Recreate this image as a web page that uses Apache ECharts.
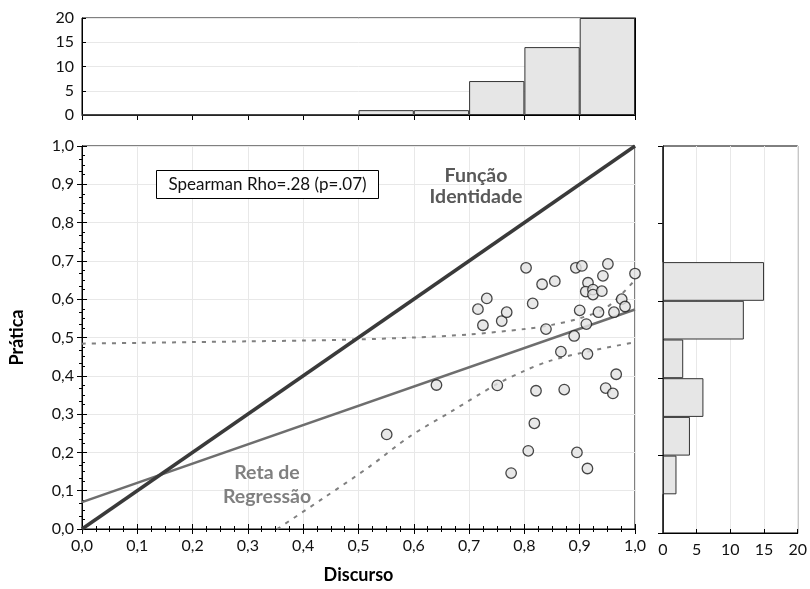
<!DOCTYPE html>
<html>
<head>
<meta charset="utf-8">
<script src="https://cdn.jsdelivr.net/npm/echarts@6/dist/echarts.min.js"></script>
<style>
html,body{margin:0;padding:0;background:#fff;}
#chart{width:810px;height:589px;}
</style>
</head>
<body>
<div id="chart"></div>
<script>
// ---- data ----
var discurso = [0.551,0.641,0.716,0.732,0.725,0.759,0.768,0.751,0.776,0.803,0.815,0.832,0.855,0.839,0.821,0.818,0.807,0.866,0.872,0.890,0.893,0.904,0.951,0.915,0.911,0.924,0.924,0.942,0.940,1.000,0.900,0.912,0.934,0.962,0.976,0.982,0.914,0.966,0.947,0.960,0.895,0.914];
var pratica  = [0.247,0.376,0.574,0.602,0.532,0.543,0.566,0.375,0.146,0.682,0.589,0.639,0.647,0.522,0.361,0.276,0.204,0.463,0.364,0.504,0.682,0.687,0.692,0.643,0.620,0.625,0.612,0.661,0.621,0.667,0.571,0.535,0.566,0.566,0.600,0.581,0.457,0.404,0.368,0.354,0.200,0.158];

var binLabels = ['0,0-0,1','0,1-0,2','0,2-0,3','0,3-0,4','0,4-0,5','0,5-0,6','0,6-0,7','0,7-0,8','0,8-0,9','0,9-1,0'];
var discursoCounts = [0,0,0,0,0,1,1,7,14,20];
var praticaCounts  = [0,2,4,6,3,12,15,0,0,0];

var identityX = [0,1];
var identityY = [0,1];
var regressionX = [0,1];
var regressionY = [0.070,0.573];
var upperX = [0,0.1,0.2,0.3,0.4,0.5,0.6,0.7,0.8,0.85,0.9,0.95,1.0];
var upperY = [0.484,0.486,0.488,0.490,0.492,0.495,0.500,0.508,0.522,0.533,0.550,0.580,0.650];
var lowerX = [0.353,0.437,0.520,0.593,0.668,0.750,0.800,0.846,0.904,1.0];
var lowerY = [0.000,0.081,0.163,0.242,0.307,0.378,0.413,0.439,0.460,0.488];

var mainTicks = [0,0.1,0.2,0.3,0.4,0.5,0.6,0.7,0.8,0.9,1.0];
var countTicks = [0,5,10,15,20];

function zip(a,b){return a.map(function(v,i){return [v,b[i]];});}
function comma(v){return (Math.round(v*10)/10).toFixed(1).replace('.',',');}

var FONT = 'Lato';
var chart = echarts.init(document.getElementById('chart'));
var gridLine = {show:true, lineStyle:{color:'#e8e8e8', width:1}};
var blackLine = {show:true, lineStyle:{color:'#000', width:1}};

var option = {
  backgroundColor:'#fff',
  animation:false,
  textStyle:{fontFamily:FONT},
  grid:[
    {left:82, top:146, width:553, height:387, show:true, borderColor:'#000', borderWidth:1, backgroundColor:'transparent'},
    {left:82, top:18, width:553, height:97, show:true, borderColor:'#000', borderWidth:1, backgroundColor:'transparent'},
    {left:663, top:146, width:139, height:387, show:true, borderColor:'#000', borderWidth:1, backgroundColor:'transparent'}
  ],
  xAxis:[
    {gridIndex:0, type:'value', min:mainTicks[0], max:mainTicks[mainTicks.length-1], interval:0.1, position:'bottom',
     name:'Discurso', nameLocation:'middle', nameGap:37,
     nameTextStyle:{fontFamily:FONT, fontWeight:'bold', fontSize:18, color:'#000'},
     axisLine:blackLine, axisTick:{show:true, inside:true, length:5, lineStyle:{color:'#000'}},
     minorTick:{show:true, splitNumber:4, length:3, lineStyle:{color:'#000'}},
     axisLabel:{formatter:comma, fontFamily:FONT, fontSize:16, color:'#111', margin:9},
     splitLine:gridLine},
    {gridIndex:0, type:'value', min:0, max:1, interval:0.1, position:'top',
     axisLine:blackLine, axisTick:{show:true, inside:true, length:5, lineStyle:{color:'#000'}},
     minorTick:{show:true, splitNumber:4, length:3, lineStyle:{color:'#000'}},
     axisLabel:{show:false}, splitLine:{show:false}},
    {gridIndex:1, type:'category', data:binLabels, position:'top',
     axisLine:blackLine, axisTick:{show:true, inside:true, length:5, interval:0, lineStyle:{color:'#000'}},
     axisLabel:{show:false}, splitLine:{show:false}},
    {gridIndex:2, type:'value', min:countTicks[0], max:countTicks[countTicks.length-1], interval:5, position:'bottom',
     axisLine:blackLine, axisTick:{show:true, inside:true, length:4, lineStyle:{color:'#000'}},
     axisLabel:{fontFamily:FONT, fontSize:16, color:'#111', margin:9},
     splitLine:gridLine}
  ],
  yAxis:[
    {gridIndex:0, type:'value', min:mainTicks[0], max:mainTicks[mainTicks.length-1], interval:0.1, position:'left',
     name:'Prática', nameLocation:'middle', nameGap:56, nameRotate:90,
     nameTextStyle:{fontFamily:FONT, fontWeight:'bold', fontSize:18, color:'#000'},
     axisLine:blackLine, axisTick:{show:true, inside:true, length:5, lineStyle:{color:'#000'}},
     minorTick:{show:true, splitNumber:4, length:3, lineStyle:{color:'#000'}},
     axisLabel:{formatter:comma, fontFamily:FONT, fontSize:16, color:'#111', margin:8},
     splitLine:gridLine},
    {gridIndex:0, type:'value', min:0, max:1, interval:0.1, position:'right',
     axisLine:blackLine, axisTick:{show:true, inside:true, length:5, lineStyle:{color:'#000'}},
     minorTick:{show:true, splitNumber:3, length:3, lineStyle:{color:'#000'}},
     axisLabel:{show:false}, splitLine:{show:false}},
    {gridIndex:1, type:'value', min:countTicks[0], max:countTicks[countTicks.length-1], interval:5, position:'left',
     axisLine:blackLine, axisTick:{show:true, inside:true, length:4, lineStyle:{color:'#000'}},
     axisLabel:{fontFamily:FONT, fontSize:16, color:'#111', margin:8},
     splitLine:gridLine},
    {gridIndex:1, type:'value', min:0, max:20, interval:5, position:'right',
     axisLine:blackLine, axisTick:{show:true, inside:true, length:4, lineStyle:{color:'#000'}},
     axisLabel:{show:false}, splitLine:{show:false}},
    {gridIndex:2, type:'category', data:binLabels, position:'right',
     axisLine:blackLine, axisTick:{show:true, inside:true, length:5, interval:1, lineStyle:{color:'#000'}},
     axisLabel:{show:false}, splitLine:{show:false}}
  ],
  series:[
    {type:'line', xAxisIndex:0, yAxisIndex:0, data:zip(upperX,upperY), smooth:0.3, symbol:'none',
     lineStyle:{color:'#808080', width:2, type:[4,6]}, z:2},
    {type:'line', xAxisIndex:0, yAxisIndex:0, data:zip(lowerX,lowerY), smooth:0.3, symbol:'none',
     lineStyle:{color:'#808080', width:2, type:[4,6]}, z:2},
    {type:'line', xAxisIndex:0, yAxisIndex:0, data:zip(regressionX,regressionY), symbol:'none',
     lineStyle:{color:'#6e6e6e', width:2.5}, z:3},
    {type:'line', xAxisIndex:0, yAxisIndex:0, data:zip(identityX,identityY), symbol:'none',
     lineStyle:{color:'#3a3a3a', width:3.5}, z:3},
    {type:'scatter', xAxisIndex:0, yAxisIndex:0, data:zip(discurso,pratica), symbol:'circle', symbolSize:10.5,
     itemStyle:{color:'#e2e2e2', borderColor:'#1a1a1a', borderWidth:1.3}, z:5},
    {type:'bar', xAxisIndex:2, yAxisIndex:2, data:discursoCounts, barWidth:'100%', barGap:'0%',
     itemStyle:{color:'#e6e6e6', borderColor:'#333', borderWidth:1}},
    {type:'bar', xAxisIndex:3, yAxisIndex:4, data:praticaCounts, barWidth:'100%', barGap:'0%',
     itemStyle:{color:'#e6e6e6', borderColor:'#333', borderWidth:1}}
  ],
  graphic:[
    {type:'rect', shape:{x:156.5, y:170.5, width:222, height:28}, style:{fill:'#fff', stroke:'#000', lineWidth:1}, z:10},
    {type:'text', x:267.5, y:184.5, z:11, style:{text:'Spearman Rho=.28 (p=.07)', fontFamily:FONT, fontSize:17, fill:'#111', align:'center', verticalAlign:'middle'}},
    {type:'text', x:476, y:186, z:11, style:{text:'Função\nIdentidade', fontFamily:FONT, fontSize:19.5, fontWeight:'bold', fill:'#595959', align:'center', verticalAlign:'middle', lineHeight:21}},
    {type:'text', x:267, y:485, z:11, style:{text:'Reta de\nRegressão', fontFamily:FONT, fontSize:19.5, fontWeight:'bold', fill:'#808080', align:'center', verticalAlign:'middle', lineHeight:24}}
  ]
};
chart.setOption(option);
</script>
</body>
</html>
